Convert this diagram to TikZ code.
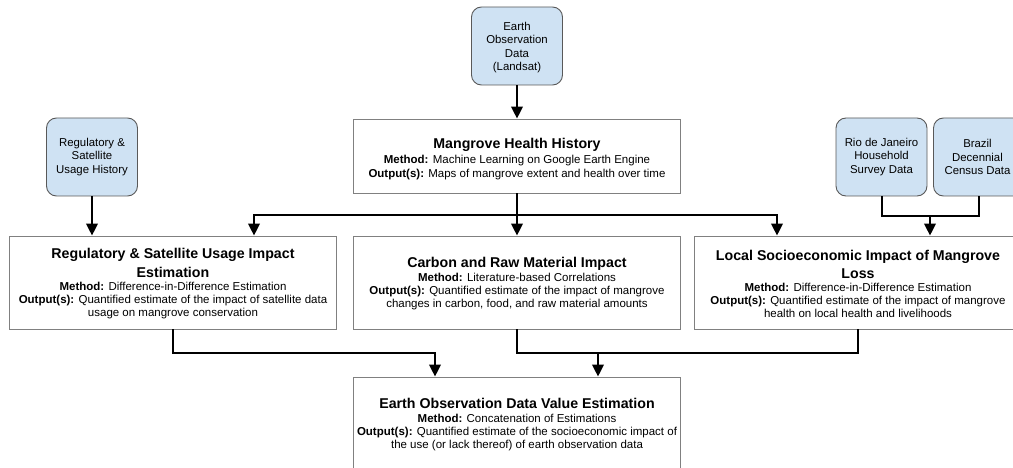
\documentclass[tikz,border=0pt]{standalone}
\usepackage{fontspec}
\setmainfont{Liberation Sans}
\usetikzlibrary{arrows.meta}
\definecolor{srcblue}{HTML}{CFE2F3}
\definecolor{srcedge}{HTML}{595959}
\definecolor{boxedge}{HTML}{808080}
\newcommand{\ttl}[1]{{\fontsize{14.2}{16}\selectfont\bfseries #1}}
\begin{document}
\begin{tikzpicture}[x=1pt,y=-1pt,
  srcbox/.style={draw=srcedge, line width=0.9pt, fill=srcblue, rounded corners=10pt, minimum width=91pt, minimum height=78pt, inner sep=0pt},
  srctext/.style={align=center, font=\fontsize{11.4}{13.6}\selectfont, inner sep=0pt},
  procbox/.style={draw=boxedge, line width=0.9pt, minimum width=327pt, minimum height=93pt, inner sep=0pt},
  proctext/.style={align=center, font=\fontsize{11.5}{13}\selectfont, inner sep=0pt},
  flow/.style={line width=2pt, -{Triangle[length=12pt,width=11.5pt]}},
  link/.style={line width=2pt}
]
\clip (0,0) rectangle (1013,468);
% source boxes
\node[srcbox] (eo) at (517,46) {};
\node[srctext] (eoT) at (517,47.5) {Earth\\Observation\\Data\\(Landsat)};
\node[srcbox] (rh) at (92,157) {};
\node[srctext] (rhT) at (92,157) {Regulatory \&\\Satellite\\Usage History};
\node[srcbox] (rio) at (881.5,157) {};
\node[srctext] (rioT) at (881.5,157) {Rio de Janeiro\\Household\\Survey Data};
\node[srcbox] (bra) at (979,157) {};
\node[srctext] (braT) at (977.5,157) {Brazil\\Decennial\\Census Data};
% process boxes
\node[procbox, minimum height=74pt] (mhh) at (517,156) {};
\node[proctext] (mhhT) at (517,159) {\ttl{Mangrove Health History}\\[2pt]
  \textbf{Method:} Machine Learning on Google Earth Engine\\[1.5pt]
  \textbf{Output(s):} Maps of mangrove extent and health over time};
\node[procbox] (reg) at (173,282.5) {};
\node[proctext] (regT) at (173,283.5) {\ttl{Regulatory \& Satellite Usage Impact}\\[5pt]
  \ttl{Estimation}\\
  \textbf{Method:} Difference-in-Difference Estimation\\
  \textbf{Output(s):} Quantified estimate of the impact of satellite data\\
  usage on mangrove conservation};
\node[procbox] (carb) at (517,282.5) {};
\node[proctext] (carbT) at (517,284) {\ttl{Carbon and Raw Material Impact}\\[1pt]
  \textbf{Method:} Literature-based Correlations\\
  \textbf{Output(s):} Quantified estimate of the impact of mangrove\\
  changes in carbon, food, and raw material amounts};
\node[procbox] (loc) at (858,282.5) {};
\node[proctext] (locT) at (858,283.5) {\ttl{Local Socioeconomic Impact of Mangrove}\\[5pt]
  \ttl{Loss}\\
  \textbf{Method:} Difference-in-Difference Estimation\\
  \textbf{Output(s):} Quantified estimate of the impact of mangrove\\
  health on local health and livelihoods};
\node[procbox, minimum height=100pt] (eodv) at (517,427) {};
\node[proctext] (eodvT) at (517,424.5) {\ttl{Earth Observation Data Value Estimation}\\[1pt]
  \textbf{Method:} Concatenation of Estimations\\
  \textbf{Output(s):} Quantified estimate of the socioeconomic impact of\\[0.5pt]
  the use (or lack thereof) of earth observation data};
% junction points
\coordinate (fanC) at (517,215);
\coordinate (fanL) at (254,215);
\coordinate (fanR) at (777,215);
\coordinate (sj) at (930,216);
\coordinate (bjL) at (435,353);
\coordinate (bjR) at (598,353);
% connectors
\draw[flow] (eo.south) -- (mhh.north);
\draw[flow] (rh.south) -- (rh.south |- reg.north);
\draw[flow] (mhh.south) -- (fanC) -| (fanL |- reg.north);
\draw[flow] (fanC) -| (fanR |- loc.north);
\draw[flow] (fanC) -- (carb.north);
\draw[flow] (rio.south) |- (sj) -- (sj |- loc.north);
\draw[link] (bra.south) |- (sj);
\draw[flow] (reg.south) |- (bjL) -- (bjL |- eodv.north);
\draw[link] (carb.south) |- (bjR) -| (loc.south);
\draw[flow] (bjR) -- (bjR |- eodv.north);
\end{tikzpicture}
\end{document}
